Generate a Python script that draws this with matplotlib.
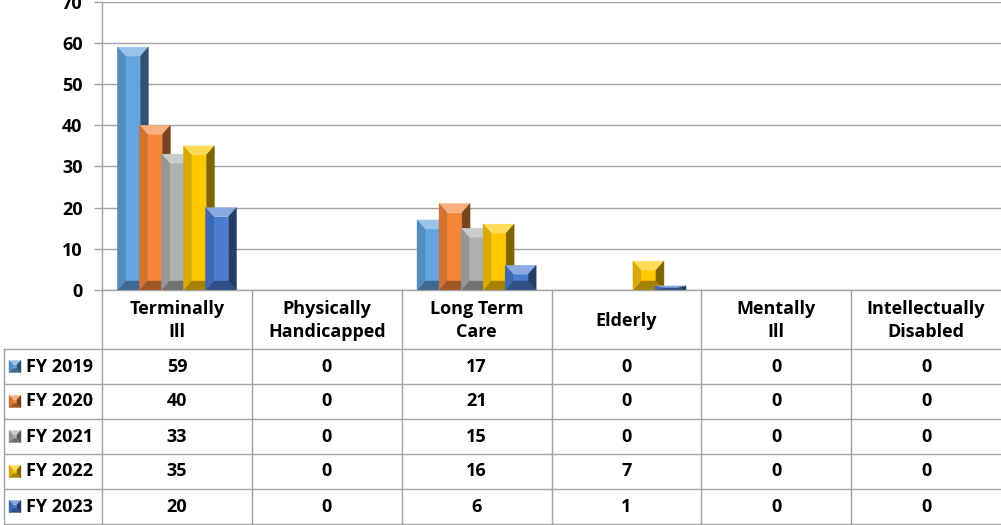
import numpy as np
import matplotlib.pyplot as plt
from matplotlib.patches import Polygon
import matplotlib.colors as mcolors

# categories and values
categories = ["Terminally\nIll", "Physically\nHandicapped", "Long Term\nCare",
              "Elderly", "Mentally\nIll", "Intellectually\nDisabled"]
series_names = ["FY 2019", "FY 2020", "FY 2021", "FY 2022", "FY 2023"]
fy2019 = [59, 0, 17, 0, 0, 0]
fy2020 = [40, 0, 21, 0, 0, 0]
fy2021 = [33, 0, 15, 0, 0, 0]
fy2022 = [35, 0, 16, 7, 0, 0]
fy2023 = [20, 0, 6, 1, 0, 0]
series = [fy2019, fy2020, fy2021, fy2022, fy2023]
colors = ["#62a3e0", "#f5863a", "#b0b0b0", "#ffc800", "#4a7cd0"]

plt.rcParams['font.family'] = ['Open Sans', 'DejaVu Sans']
plt.rcParams['font.weight'] = 'bold'
FS = 13

W, H = 1001, 525
GRID = "#a3a3a3"
fig = plt.figure(figsize=(W / 100, H / 100), dpi=100)

# plot area in pixel terms (from top-left)
left, right, base, top = 102, 1001, 290, 1.8
ax = fig.add_axes([left / W, 1 - base / H, (right - left) / W, (base - top) / H])
ax.set_xlim(-0.5, len(categories) - 0.5)
ax.set_ylim(0, 70)
ax.set_yticks(np.arange(0, 71, 10))
ax.set_xticks([])
ax.yaxis.grid(True, color=GRID, lw=1.0, zorder=0)
ax.set_axisbelow(True)
ax.tick_params(axis='y', length=6, width=1.0, color=GRID, labelsize=FS, pad=8)
for s in ['top', 'right']:
    ax.spines[s].set_visible(False)
for s in ['left', 'bottom']:
    ax.spines[s].set_color(GRID)
    ax.spines[s].set_linewidth(1.0)


def shade(c, f):
    r = np.array(mcolors.to_rgb(c))
    if f >= 1:
        return tuple(r + (1 - r) * (f - 1))
    return tuple(r * f)


def bevel(a, x0, x1, y0, y1, bx, by, c, z):
    # y0 = visual bottom, y1 = visual top, by points from top to bottom
    ti, bi = y1 - by, y0 + by
    parts = [
        ([(x0 + bx, bi), (x1 - bx, bi), (x1 - bx, ti), (x0 + bx, ti)], shade(c, 1.0)),
        ([(x0, y1), (x1, y1), (x1 - bx, ti), (x0 + bx, ti)], shade(c, 1.35)),
        ([(x0, y0), (x1, y0), (x1 - bx, bi), (x0 + bx, bi)], shade(c, 0.65)),
        ([(x0, y0), (x0, y1), (x0 + bx, ti), (x0 + bx, bi)], shade(c, 0.85)),
        ([(x1, y0), (x1, y1), (x1 - bx, ti), (x1 - bx, bi)], shade(c, 0.5)),
    ]
    for pts, col in parts:
        a.add_patch(Polygon(pts, closed=True, facecolor=col, edgecolor=col,
                            lw=0.3, zorder=z))


# pixel scale of data units
p0 = ax.transData.transform((0, 0))
p1 = ax.transData.transform((1, 10))
sx = p1[0] - p0[0]
sy = (p1[1] - p0[1]) / 10

bw = 0.207
step = 0.147
for i, vals in enumerate(series):
    for g, v in enumerate(vals):
        if v <= 0:
            continue
        xc = g + (i - 2) * step
        x0, x1 = xc - bw / 2, xc + bw / 2
        bx = min(8 / sx, bw / 2)
        by = min(9 / sy, v / 2)
        bevel(ax, x0, x1, 0, v, bx, by, colors[i], 3 + i)

# data table under the plot, in pixel coordinates
tax = fig.add_axes([0, 0, 1, (H - base) / H])
tax.set_xlim(0, W)
tax.set_ylim(H, base)
tax.axis('off')

colw = (right - left) / len(categories)
row_edges = [349, 384, 419, 454, 489, 524]
col_edges = [left + colw * k for k in range(len(categories))]
lw = 1.0
for y in row_edges:
    tax.plot([4, W], [y, y], color=GRID, lw=lw, solid_capstyle='butt')
for x in col_edges:
    tax.plot([x, x], [base, row_edges[-1]], color=GRID, lw=lw)
tax.plot([4, 4], [row_edges[0], row_edges[-1]], color=GRID, lw=lw)

for k, cat in enumerate(categories):
    tax.text(left + colw * (k + 0.5), (base + row_edges[0]) / 2 + 1, cat,
             ha='center', va='center', fontsize=FS, fontweight='bold',
             linespacing=1.4)

for i, name in enumerate(series_names):
    yc = (row_edges[i] + row_edges[i + 1]) / 2
    bevel(tax, 9, 21, yc + 6, yc - 6, 4, -4, colors[i], 3)
    tax.text(26, yc, name, ha='left', va='center', fontsize=FS,
             fontweight='bold')
    for k, v in enumerate(series[i]):
        tax.text(left + colw * (k + 0.5), yc, str(v), ha='center',
                 va='center', fontsize=FS, fontweight='bold')

fig.savefig("out.png", dpi=100)
